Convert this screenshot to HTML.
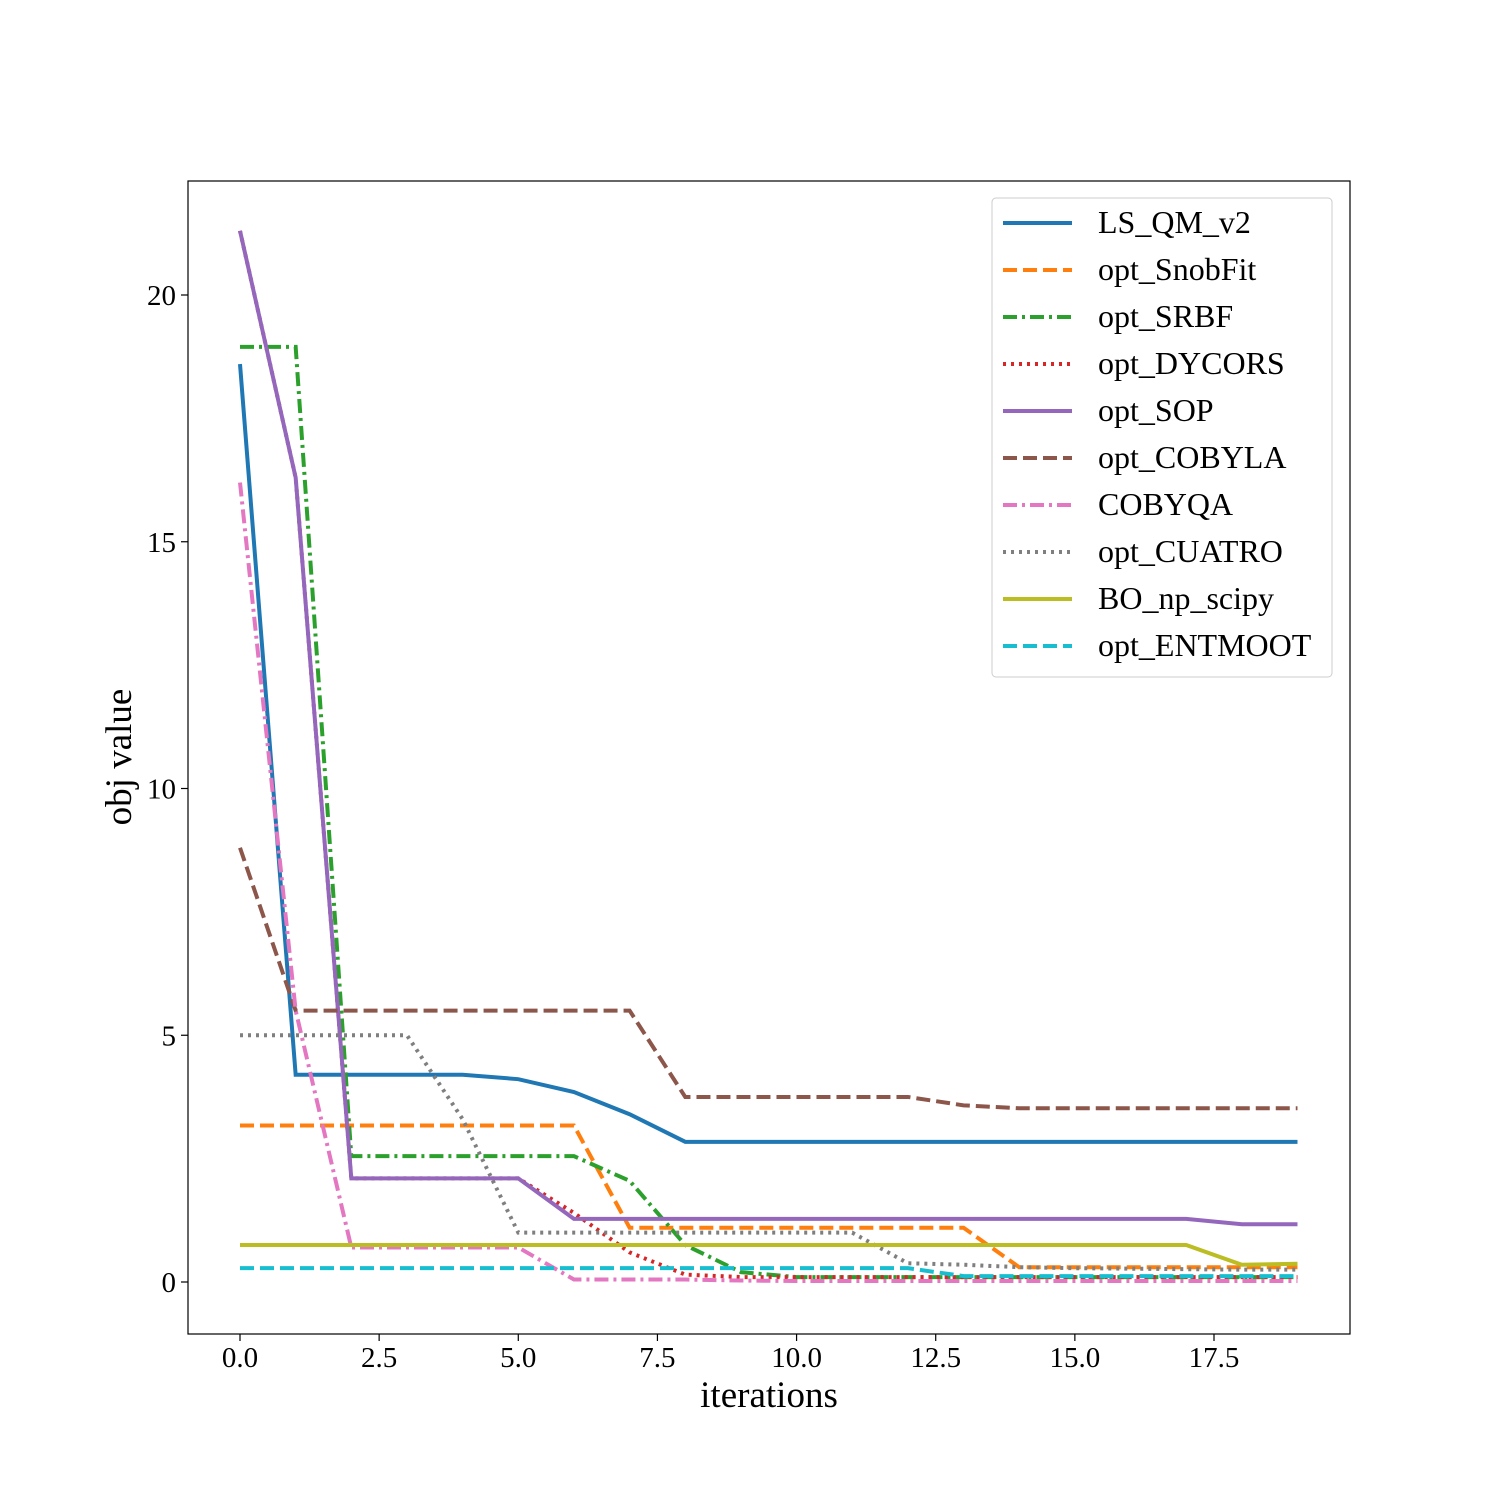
<!DOCTYPE html>
<html><head><meta charset="utf-8"><style>
body{margin:0;background:#fff}
svg{font-family:"Liberation Serif",serif}
</style></head><body>
<svg id="chart" width="1500" height="1500" xmlns="http://www.w3.org/2000/svg">
<rect width="1500" height="1500" fill="#fff"/>
<g id="plot"></g>
<g id="axes"></g>
<g id="legend"></g>
</svg>
<script>
const iterations = [0,1,2,3,4,5,6,7,8,9,10,11,12,13,14,15,16,17,18,19];
const LS_QM_v2 = [18.6,4.2,4.2,4.2,4.2,4.11,3.85,3.4,2.84,2.84,2.84,2.84,2.84,2.84,2.84,2.84,2.84,2.84,2.84,2.84];
const opt_SnobFit = [3.17,3.17,3.17,3.17,3.17,3.17,3.17,1.1,1.1,1.1,1.1,1.1,1.1,1.1,0.3,0.3,0.3,0.3,0.3,0.3];
const opt_SRBF = [18.95,18.95,2.55,2.55,2.55,2.55,2.55,2.05,0.75,0.2,0.1,0.1,0.1,0.1,0.1,0.1,0.1,0.1,0.1,0.1];
const opt_DYCORS = [21.3,16.3,2.1,2.1,2.1,2.1,1.4,0.6,0.15,0.1,0.1,0.1,0.1,0.1,0.1,0.1,0.1,0.1,0.1,0.1];
const opt_SOP = [21.3,16.3,2.1,2.1,2.1,2.1,1.28,1.28,1.28,1.28,1.28,1.28,1.28,1.28,1.28,1.28,1.28,1.28,1.17,1.17];
const opt_COBYLA = [8.8,5.5,5.5,5.5,5.5,5.5,5.5,5.5,3.75,3.75,3.75,3.75,3.75,3.58,3.52,3.52,3.52,3.52,3.52,3.52];
const COBYQA = [16.2,5.5,0.7,0.7,0.7,0.7,0.05,0.05,0.05,0.03,0.02,0.02,0.02,0.02,0.02,0.02,0.02,0.02,0.02,0.02];
const opt_CUATRO = [5.0,5.0,5.0,5.0,3.3,1.0,1.0,1.0,1.0,1.0,1.0,1.0,0.38,0.35,0.3,0.28,0.27,0.26,0.25,0.25];
const BO_np_scipy = [0.75,0.75,0.75,0.75,0.75,0.75,0.75,0.75,0.75,0.75,0.75,0.75,0.75,0.75,0.75,0.75,0.75,0.75,0.35,0.37];
const opt_ENTMOOT = [0.28,0.28,0.28,0.28,0.28,0.28,0.28,0.28,0.28,0.28,0.28,0.28,0.28,0.12,0.12,0.12,0.12,0.12,0.12,0.12];
const xTicks = [0,2.5,5,7.5,10,12.5,15,17.5];
const yTicks = [0,5,10,15,20];

const NS="http://www.w3.org/2000/svg";
const L=188,R=1350,T=181,B=1334;
const X=v=>240+v*(1214-240)/17.5;
const Y=v=>1282-v*(1282-295)/20;
function mk(tag,attrs,parent){const e=document.createElementNS(NS,tag);for(const k in attrs)e.setAttribute(k,attrs[k]);parent.appendChild(e);return e;}
const plot=document.getElementById('plot'),axes=document.getElementById('axes'),legend=document.getElementById('legend');
const series=[
 ['LS_QM_v2',LS_QM_v2,'#1f77b4',''],
 ['opt_SnobFit',opt_SnobFit,'#ff7f0e','14,6'],
 ['opt_SRBF',opt_SRBF,'#2ca02c','14,5,3,5'],
 ['opt_DYCORS',opt_DYCORS,'#d62728','3,5'],
 ['opt_SOP',opt_SOP,'#9467bd',''],
 ['opt_COBYLA',opt_COBYLA,'#8c564b','14,6'],
 ['COBYQA',COBYQA,'#e377c2','14,5,3,5'],
 ['opt_CUATRO',opt_CUATRO,'#7f7f7f','3,5'],
 ['BO_np_scipy',BO_np_scipy,'#bcbd22',''],
 ['opt_ENTMOOT',opt_ENTMOOT,'#17becf','14,6']
];
const lb=mk('rect',{x:992,y:198,width:340,height:479,rx:4,fill:'#fff','fill-opacity':0.8,stroke:'#ccc'},legend);


series.forEach(([name,vals,col,dash],i)=>{
  const p=mk('polyline',{points:vals.map((v,j)=>X(iterations[j])+','+Y(v)).join(' '),fill:'none',stroke:col,'stroke-width':4,'stroke-dasharray':dash},plot);
  
  
  const ly=223+i*47;
  const g=mk('g',{},legend);
  
  
  mk('line',{x1:1003,x2:1072,y1:ly,y2:ly,stroke:col,'stroke-width':4,'stroke-dasharray':dash},g);
  const t=mk('text',{x:1098,y:ly+10,'font-size':32},g);t.textContent=name;
});
mk('rect',{x:L,y:T,width:R-L,height:B-T,fill:'none',stroke:'#000','stroke-width':1.2},axes);
xTicks.forEach(v=>{mk('line',{x1:X(v),x2:X(v),y1:B,y2:B+7,stroke:'#000','stroke-width':1.2},axes);
 const t=mk('text',{x:X(v),y:B+33,'font-size':29,'text-anchor':'middle'},axes);t.textContent=v.toFixed(1);
 });
yTicks.forEach(v=>{mk('line',{x1:L,x2:L-7,y1:Y(v),y2:Y(v),stroke:'#000','stroke-width':1.2},axes);
 const t=mk('text',{x:L-12,y:Y(v)+10,'font-size':29,'text-anchor':'end'},axes);t.textContent=v;
 });
const xt=mk('text',{x:769,y:1407,'font-size':37,'text-anchor':'middle'},axes);xt.textContent='iterations';

const yt=mk('text',{x:0,y:0,'font-size':37,'text-anchor':'middle',transform:'translate(131,757) rotate(-90)'},axes);yt.textContent='obj value';

</script>
</body></html>
